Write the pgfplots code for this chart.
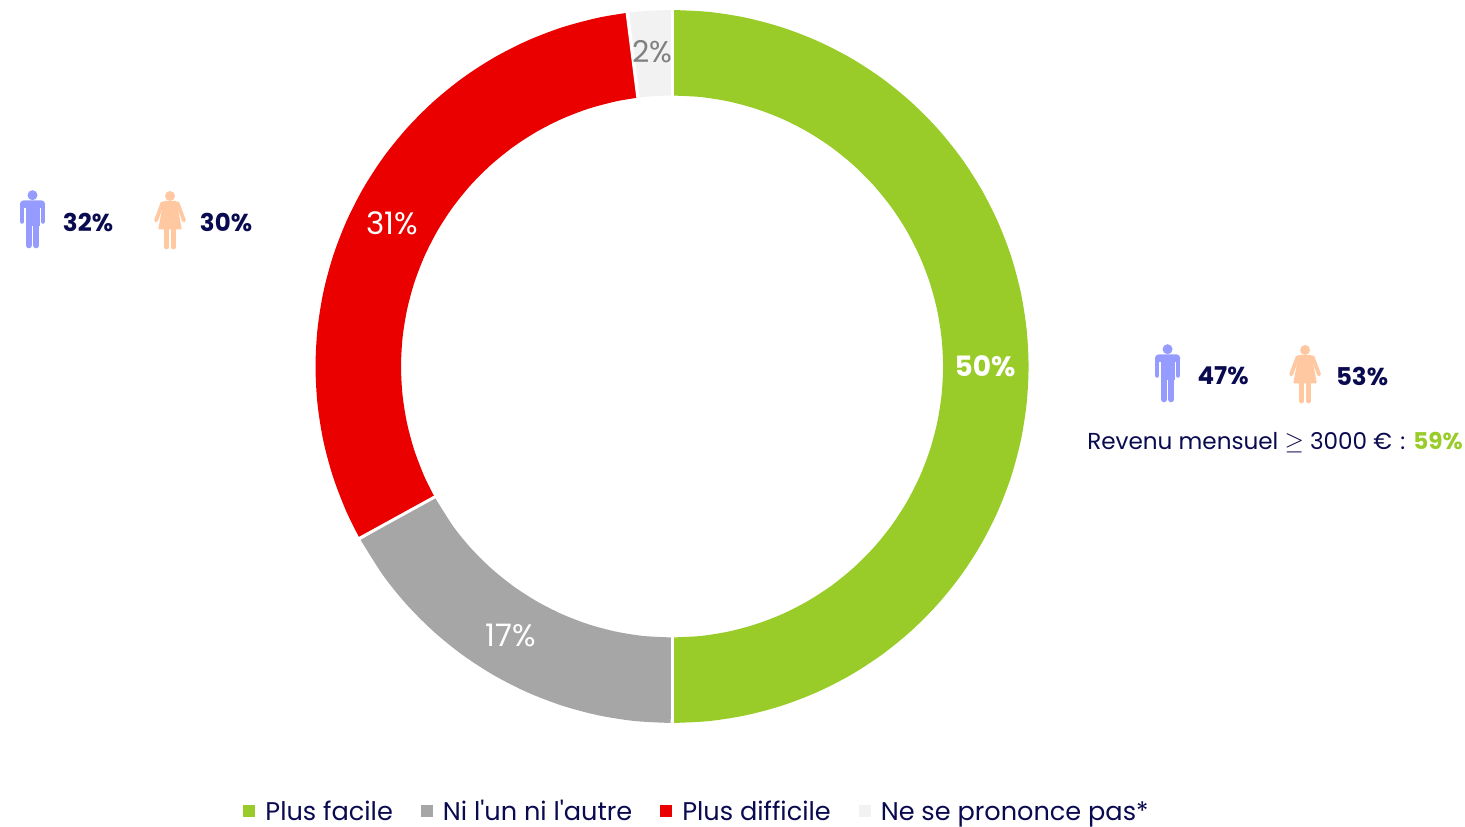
\documentclass[border=0pt]{standalone}
\usepackage{fontspec}
\setmainfont{Poppins}[Ligatures=TeXOff]
\usepackage{pgfplots}
\pgfplotsset{compat=1.18}
\definecolor{cgreen}{HTML}{99CC28}
\definecolor{cgray}{HTML}{A6A6A6}
\definecolor{cred}{HTML}{EB0000}
\definecolor{clight}{HTML}{F2F2F2}
\definecolor{cnavy}{HTML}{0A0A50}
\definecolor{cman}{HTML}{969BFF}
\definecolor{cwoman}{HTML}{FFC8A0}
\definecolor{clabel}{HTML}{808080}
\newcommand{\man}[2]{%
  \begin{scope}[shift={(axis cs:#1,#2)},x=1pt,y=1pt,cman]
    \fill (0,-5.2) circle[radius=5pt];
    \fill[rounded corners=4pt] (-12.7,-10.3) rectangle (12.7,-18);
    \fill (-7,-12) rectangle (7,-36);
    \draw[line width=4.6pt,line cap=round] (-10.4,-15) -- (-10.4,-31.5);
    \draw[line width=4.6pt,line cap=round] (10.4,-15) -- (10.4,-31.5);
    \draw[line width=5.6pt,line cap=round] (-3.7,-33) -- (-3.7,-55.5);
    \draw[line width=5.6pt,line cap=round] (3.7,-33) -- (3.7,-55.5);
  \end{scope}}
\newcommand{\woman}[2]{%
  \begin{scope}[shift={(axis cs:#1,#2)},x=1pt,y=1pt,cwoman]
    \fill (0,-5) circle[radius=5pt];
    \fill[rounded corners=1pt] (-6.5,-10) -- (6.5,-10) -- (11.8,-38.5) -- (-11.8,-38.5) -- cycle;
    \draw[line width=3.8pt,line cap=round] (-7.5,-12) -- (-14,-29.5);
    \draw[line width=3.8pt,line cap=round] (7.5,-12) -- (14,-29.5);
    \draw[line width=4.8pt,line cap=round] (-3.5,-36) -- (-3.5,-56);
    \draw[line width=4.8pt,line cap=round] (3.5,-36) -- (3.5,-56);
  \end{scope}}
\begin{document}
\begin{tikzpicture}
\useasboundingbox (0,0) rectangle (1465pt,827pt);
\begin{axis}[
  at={(0,0)}, anchor=south west,
  scale only axis, width=1465pt, height=827pt,
  xmin=-672, xmax=793, ymin=-460.5, ymax=366.5,
  hide axis, clip=false,
  legend columns=4,
  legend style={at={(axis cs:25,-445)},anchor=center,draw=none,fill=none,
    font=\fontsize{25.6}{30}\selectfont\color{cnavy},
    /tikz/every even column/.append style={column sep=26pt},
    /tikz/every odd column/.append style={column sep=8pt}},
  legend image code/.code={\fill[#1,draw=none] (0pt,-6pt) rectangle (12pt,6pt);},
  every axis plot/.append style={line width=85.5pt,line join=round},
]
\addplot[cgreen,data cs=polar,no marks,smooth] coordinates {
(90,313.75)(84,313.75)(78,313.75)(72,313.75)(66,313.75)(60,313.75)(54,313.75)(48,313.75)(42,313.75)(36,313.75)(30,313.75)(24,313.75)(18,313.75)(12,313.75)(6,313.75)(0,313.75)
(-6,313.75)(-12,313.75)(-18,313.75)(-24,313.75)(-30,313.75)(-36,313.75)(-42,313.75)(-48,313.75)(-54,313.75)(-60,313.75)(-66,313.75)(-72,313.75)(-78,313.75)(-84,313.75)(-90,313.75)};
\addlegendentry{Plus facile}
\addplot[cgray,data cs=polar,no marks,smooth] coordinates {
(-90,313.75)(-96,313.75)(-102,313.75)(-108,313.75)(-114,313.75)(-120,313.75)(-126,313.75)(-132,313.75)(-138,313.75)(-144,313.75)(-151.2,313.75)};
\addlegendentry{Ni l'un ni l'autre}
\addplot[cred,data cs=polar,no marks,smooth] coordinates {
(-151.2,313.75)(-156,313.75)(-162,313.75)(-168,313.75)(-174,313.75)(-180,313.75)(-186,313.75)(-192,313.75)(-198,313.75)(-204,313.75)(-210,313.75)(-216,313.75)(-222,313.75)(-228,313.75)(-234,313.75)(-240,313.75)(-246,313.75)(-252,313.75)(-258,313.75)(-262.8,313.75)};
\addlegendentry{Plus difficile}
\addplot[clight,data cs=polar,no marks,smooth] coordinates {
(-262.8,313.75)(-266,313.75)(-270,313.75)};
\addlegendentry{Ne se prononce pas*}
% white separators between the slices
\addplot[white,data cs=polar,no marks,line width=3pt,forget plot] coordinates {(90,265)(90,362)};
\addplot[white,data cs=polar,no marks,line width=3pt,forget plot] coordinates {(-90,265)(-90,362)};
\addplot[white,data cs=polar,no marks,line width=3pt,forget plot] coordinates {(-151.2,265)(-151.2,362)};
\addplot[white,data cs=polar,no marks,line width=3.5pt,forget plot] coordinates {(-262.8,265)(-262.8,362)};
% slice labels
\node[white,font=\bfseries\fontsize{28}{30}\selectfont] at (axis cs:313,0.5) {50\%};
\node[white,font=\fontsize{31}{34}\selectfont] at (axis cs:-280,143.5) {31\%};
\node[white,font=\fontsize{31}{34}\selectfont] at (axis cs:-161,-268.5) {17\%};
\node[clabel,font=\fontsize{30}{34}\selectfont] at (axis cs:-20,314.5) {2\%};
% icons and side figures
\man{-639.5}{176.5}
\woman{-502}{175.5}
\man{495.5}{22.5}
\woman{633}{21.5}
\node[cnavy,font=\bfseries\fontsize{24.5}{28}\selectfont] at (axis cs:-584,144.5) {32\%};
\node[cnavy,font=\bfseries\fontsize{24.5}{28}\selectfont] at (axis cs:-446,144.5) {30\%};
\node[cnavy,font=\bfseries\fontsize{24.5}{28}\selectfont] at (axis cs:551,-9.5) {47\%};
\node[cnavy,font=\bfseries\fontsize{24.5}{28}\selectfont] at (axis cs:690,-9.5) {53\%};
\node[cnavy,anchor=west,inner sep=0pt,font=\fontsize{23.1}{28}\selectfont] at (axis cs:415,-76.5) {Revenu mensuel $\geq$ 3000 €\hspace{2pt} : {\bfseries\color{cgreen}59\%}};
\end{axis}
\end{tikzpicture}
\end{document}
